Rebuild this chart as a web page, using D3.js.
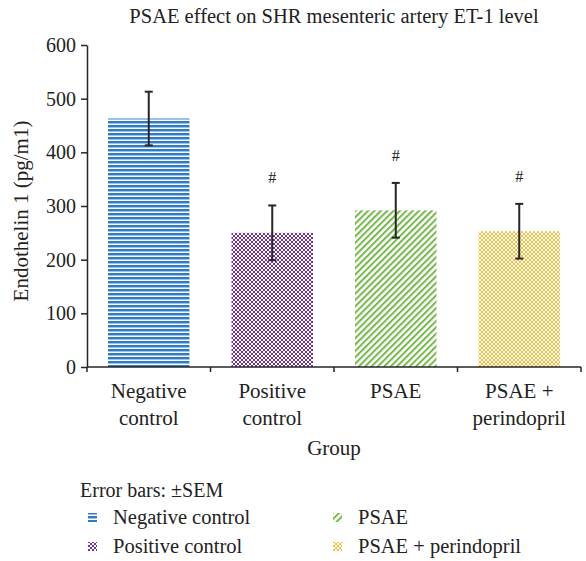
<!DOCTYPE html>
<html lang="en">
<head>
    <meta charset="UTF-8">
    <title>PSAE effect on SHR mesenteric artery ET-1 level</title>
    <script src="https://cdnjs.cloudflare.com/ajax/libs/d3/7.8.5/d3.min.js"></script>
    <style type="text/css">
        body { margin: 0; background: #fff; }
        svg text { font-family: "Liberation Serif", "DejaVu Serif", serif; fill: #222; }
    </style>
</head>
<body>
<svg width="586" height="561"></svg>
<script>
    var groups = ["Negative control", "Positive control", "PSAE", "PSAE + perindopril"];
    var groupLines = [["Negative", "control"], ["Positive", "control"], ["PSAE"], ["PSAE +", "perindopril"]];
    var means = [463, 250, 292, 253];
    var sems = [50, 51, 51, 51];
    var marks = ["", "#", "#", "#"];
    var yTicks = [0, 100, 200, 300, 400, 500, 600];

    var svg = d3.select("svg");
    var margin = {top: 45, right: 5, bottom: 194, left: 87};
    var width = 586 - margin.left - margin.right;
    var height = 561 - margin.top - margin.bottom;

    // fill patterns, one per group
    var defs = svg.append("defs");

    var p0 = defs.append("pattern").attr("id", "pat0")
        .attr("patternUnits", "userSpaceOnUse").attr("width", 4).attr("height", 4);
    p0.append("rect").attr("width", 4).attr("height", 4).attr("fill", "#fff");
    p0.append("rect").attr("y", 0).attr("width", 4).attr("height", 2).attr("fill", "#2f7cc3");
    p0.append("rect").attr("y", 2).attr("width", 4).attr("height", 1).attr("fill", "#9cc2e6");

    var p1 = defs.append("pattern").attr("id", "pat1")
        .attr("patternUnits", "userSpaceOnUse").attr("width", 4).attr("height", 4);
    p1.append("rect").attr("width", 4).attr("height", 4).attr("fill", "#fff");
    p1.append("rect").attr("width", 2).attr("height", 2).attr("fill", "#7233a0");
    p1.append("rect").attr("x", 2).attr("y", 2).attr("width", 2).attr("height", 2).attr("fill", "#7233a0");

    var p2 = defs.append("pattern").attr("id", "pat2")
        .attr("patternUnits", "userSpaceOnUse").attr("width", 4.5).attr("height", 4.5)
        .attr("patternTransform", "rotate(45)");
    p2.append("rect").attr("width", 4.5).attr("height", 4.5).attr("fill", "#fff");
    p2.append("rect").attr("width", 2).attr("height", 4.5).attr("fill", "#74b94a");

    var p3 = defs.append("pattern").attr("id", "pat3")
        .attr("patternUnits", "userSpaceOnUse").attr("width", 4).attr("height", 4);
    p3.append("rect").attr("width", 4).attr("height", 4).attr("fill", "#fff");
    p3.append("rect").attr("width", 2).attr("height", 2).attr("fill", "#fbbd3a");
    p3.append("rect").attr("x", 2).attr("y", 2).attr("width", 2).attr("height", 2).attr("fill", "#fbbd3a");

    var x = d3.scaleBand().domain(groups).range([0, width]).paddingInner(0.34).paddingOuter(0.17);
    var y = d3.scaleLinear().domain([0, 600]).range([height, 0]);

    var g = svg.append("g")
        .attr("transform", "translate(" + margin.left + "," + margin.top + ")");

    // bars
    g.selectAll("rect.bar")
        .data(groups)
        .enter().append("rect")
        .attr("class", "bar")
        .attr("x", function(d) { return x(d); })
        .attr("y", function(d, i) { return y(means[i]); })
        .attr("width", x.bandwidth())
        .attr("height", function(d, i) { return height - y(means[i]); })
        .attr("fill", function(d, i) { return "url(#pat" + i + ")"; });

    // error bars
    var err = g.selectAll("g.err")
        .data(groups)
        .enter().append("g")
        .attr("class", "err")
        .attr("transform", function(d) { return "translate(" + (x(d) + x.bandwidth() / 2) + ",0)"; })
        .attr("stroke", "#262626")
        .attr("stroke-width", 2);
    err.append("line")
        .attr("y1", function(d, i) { return y(means[i] + sems[i]); })
        .attr("y2", function(d, i) { return y(means[i] - sems[i]); });
    err.append("line")
        .attr("x1", -4).attr("x2", 4)
        .attr("y1", function(d, i) { return y(means[i] + sems[i]); })
        .attr("y2", function(d, i) { return y(means[i] + sems[i]); });
    err.append("line")
        .attr("x1", -4).attr("x2", 4)
        .attr("y1", function(d, i) { return y(means[i] - sems[i]); })
        .attr("y2", function(d, i) { return y(means[i] - sems[i]); });

    // significance marks
    g.selectAll("text.mark")
        .data(groups)
        .enter().append("text")
        .attr("class", "mark")
        .attr("x", function(d) { return x(d) + x.bandwidth() / 2; })
        .attr("y", function(d, i) { return y(means[i] + sems[i]) - 22; })
        .attr("text-anchor", "middle")
        .attr("font-size", 16)
        .text(function(d, i) { return marks[i]; });

    // y axis
    var yAxis = g.append("g")
        .call(d3.axisLeft(y).tickValues(yTicks).tickSize(6).tickSizeOuter(0));
    yAxis.select(".domain").attr("stroke", "#262626").attr("stroke-width", 1.5);
    yAxis.selectAll(".tick line").attr("stroke", "#262626").attr("stroke-width", 1.5);
    yAxis.selectAll(".tick text")
        .attr("x", -11)
        .attr("font-size", 20)
        .attr("fill", "#222");

    // x axis with ticks on band edges
    var xAxis = g.append("g").attr("transform", "translate(0," + height + ")");
    xAxis.append("line")
        .attr("x1", 0).attr("x2", width)
        .attr("stroke", "#262626").attr("stroke-width", 1.5);
    var edges = groups.map(function(d) { return x(d) - x.step() * x.paddingInner() / 2; });
    edges.push(width);
    xAxis.selectAll("line.edge")
        .data(edges)
        .enter().append("line")
        .attr("class", "edge")
        .attr("x1", function(d) { return d; }).attr("x2", function(d) { return d; })
        .attr("y1", 0).attr("y2", 5)
        .attr("stroke", "#262626").attr("stroke-width", 1.5);

    var labels = xAxis.selectAll("text.cat")
        .data(groups)
        .enter().append("text")
        .attr("class", "cat")
        .attr("text-anchor", "middle")
        .attr("font-size", 21)
        .attr("transform", function(d) { return "translate(" + (x(d) + x.bandwidth() / 2) + ",31)"; });
    labels.selectAll("tspan")
        .data(function(d, i) { return groupLines[i]; })
        .enter().append("tspan")
        .attr("x", 0)
        .attr("dy", function(d, i) { return i === 0 ? 0 : 27; })
        .text(function(d) { return d; });

    g.append("text")
        .attr("x", width / 2)
        .attr("y", height + 88)
        .attr("text-anchor", "middle")
        .attr("font-size", 21)
        .text("Group");

    g.append("text")
        .attr("transform", "translate(-59," + (height / 2 + 5) + ") rotate(-90)")
        .attr("text-anchor", "middle")
        .attr("font-size", 21)
        .text("Endothelin 1 (pg/m1)");

    svg.append("text")
        .attr("x", margin.left + width / 2)
        .attr("y", 23)
        .attr("text-anchor", "middle")
        .attr("font-size", 20.5)
        .text("PSAE effect on SHR mesenteric artery ET-1 level");

    // legend
    svg.append("text")
        .attr("x", 80).attr("y", 497)
        .attr("font-size", 20)
        .text("Error bars: \u00b1SEM");

    // legend order in the reference: col1 = Negative, Positive; col2 = PSAE, PSAE + perindopril
    var legend = svg.selectAll("g.legend")
        .data(groups)
        .enter().append("g")
        .attr("class", "legend")
        .attr("transform", function(d, i) {
            var col = i < 2 ? 0 : 1;
            var row = i % 2;
            return "translate(" + (col === 0 ? 88 : 333) + "," + (row === 0 ? 524 : 553) + ")";
        });
    legend.append("rect")
        .attr("y", -11)
        .attr("width", 9).attr("height", 9)
        .attr("fill", function(d, i) { return "url(#pat" + i + ")"; });
    legend.append("text")
        .attr("x", 25)
        .attr("font-size", 20.5)
        .text(function(d) { return d; });
</script>
</body>
</html>
